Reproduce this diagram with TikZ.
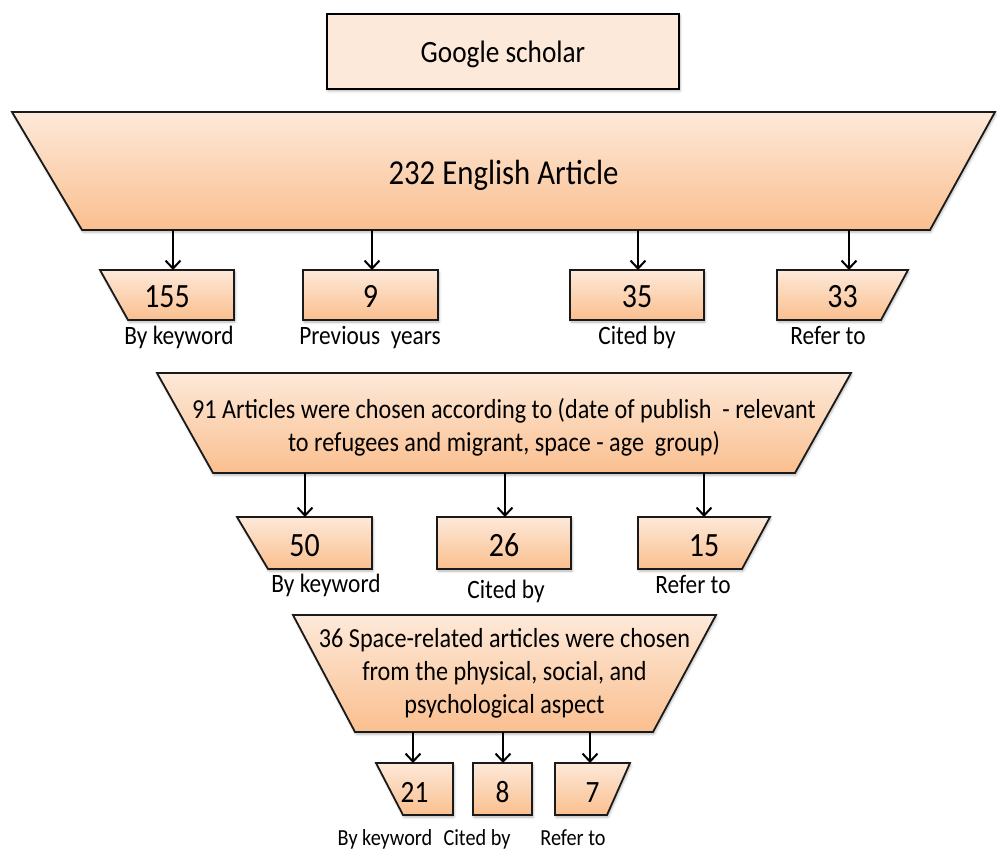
\documentclass[tikz,border=0pt]{standalone}
\usepackage{fontspec}
\setmainfont{Carlito}[FakeStretch=0.88]
\usetikzlibrary{arrows.meta,backgrounds,shadows.blur}

\definecolor{paleorange}{HTML}{FDE9D9}
\definecolor{deeporange}{HTML}{FABF8F}
\definecolor{edge}{HTML}{1A1A1A}

\tikzset{
  frame/.style={rectangle, inner sep=0pt, outer sep=0pt, align=center},
  softshadow/.style={blur shadow={shadow xshift=1pt, shadow yshift=-2pt,
      shadow blur radius=2.5pt, shadow opacity=30}},
  funnelshape/.style={draw=edge, line width=1.8pt, line join=miter,
      top color=paleorange, bottom color=deeporange, softshadow},
  countbox/.style={frame, text height=26pt, text depth=0pt,
      font=\fontsize{34}{36}\selectfont},
  smallcount/.style={countbox, font=\fontsize{31}{33}\selectfont},
  caption/.style={anchor=base, inner sep=0pt, font=\fontsize{26.5}{30}\selectfont},
  smallcaption/.style={caption, font=\fontsize{23}{26}\selectfont},
  flow/.style={draw=black, line width=2pt, -{Straight Barb[length=8pt,width=15pt]}},
}

% outline of a box whose bottom side is pulled in by #2 (left) and #3 (right)
\newcommand\slanted[3]{%
  \path[funnelshape] (#1.north west) -- (#1.north east)
    -- ([xshift=-#3pt]#1.south east) -- ([xshift=#2pt]#1.south west) -- cycle;}

\begin{document}
\begin{tikzpicture}[x=1pt, y=-1pt]
\useasboundingbox (0,0) rectangle (997,850);

% source
\node[frame, draw=black, line width=2.6pt, fill=paleorange, softshadow,
      minimum width=352pt, minimum height=75pt, text height=23pt, text depth=0pt,
      font=\fontsize{31}{33}\selectfont] (GS) at (503,51.5) {Google scholar};

% first stage
\node[frame, minimum width=983pt, minimum height=118pt, text height=28pt, text depth=0pt,
      font=\fontsize{35}{37}\selectfont] (T1) at (503.5,171) {232 English Article};
\node[countbox, minimum width=134pt, minimum height=50pt] (B155) at (167,295) {155};
\node[countbox, minimum width=135pt, minimum height=50pt] (B9)   at (370.5,295) {9};
\node[countbox, minimum width=134pt, minimum height=50pt] (B35)  at (637,295) {35};
\node[countbox, minimum width=131pt, minimum height=50pt] (B33)  at (842.5,295) {33};
\node[caption] (L155) at (179,345) {By keyword};
\node[caption] (L9)   at (370,345) {Previous\ \ years};
\node[caption] (L35)  at (637,345) {Cited by};
\node[caption] (L33)  at (828,345) {Refer to};

% second stage
\node[frame, minimum width=694pt, minimum height=100pt,
      font=\fontsize{27.5}{33}\selectfont] (T2) at (504,423)
  {\rule{0pt}{28pt}91 Articles were chosen according to (date of publish\ \ - relevant\\
   to refugees and migrant, space - age\ \ group)};
\node[countbox, minimum width=135pt, minimum height=52pt] (B50) at (304.5,543) {50};
\node[countbox, minimum width=134pt, minimum height=52pt] (B26) at (504,543) {26};
\node[countbox, minimum width=132pt, minimum height=52pt] (B15) at (704,543) {15};
\node[caption] (L50) at (326,592) {By keyword};
\node[caption] (L26) at (506,598) {Cited by};
\node[caption] (L15) at (693,593) {Refer to};

% third stage
\node[frame, minimum width=423pt, minimum height=117pt,
      font=\fontsize{27.5}{33}\selectfont] (T3) at (504.5,673.5)
  {36 Space-related articles were chosen\\
   from the physical, social, and\\
   psychological aspect};
\node[smallcount, minimum width=77pt, minimum height=52pt] (B21) at (414.5,789) {21};
\node[smallcount, minimum width=59pt, minimum height=52pt] (B8)  at (502.5,789) {8};
\node[smallcount, minimum width=75pt, minimum height=52pt] (B7)  at (592.5,789) {7};
\node[smallcaption] (L21) at (385,845) {By keyword};
\node[smallcaption] (L8)  at (477,845) {Cited by};
\node[smallcaption] (L7)  at (573,845) {Refer to};

% shaded outlines behind the texts
\begin{scope}[on background layer]
  \slanted{T1}{70}{65}
  \slanted{B155}{28}{0}
  \slanted{B9}{0}{0}
  \slanted{B35}{0}{0}
  \slanted{B33}{0}{27}
  \slanted{T2}{56}{56}
  \slanted{B50}{31}{0}
  \slanted{B26}{0}{0}
  \slanted{B15}{0}{28}
  \slanted{T3}{62}{63}
  \slanted{B21}{27}{0}
  \slanted{B8}{0}{0}
  \slanted{B7}{0}{23}
\end{scope}

% drop points of the arrows
\coordinate (d155) at (173,0);
\coordinate (d9)   at (372,0);
\coordinate (d35)  at (638,0);
\coordinate (d33)  at (849,0);
\coordinate (d50)  at (305,0);
\coordinate (d26)  at (505,0);
\coordinate (d15)  at (704,0);
\coordinate (d21)  at (413,0);
\coordinate (d8)   at (503,0);
\coordinate (d7)   at (590,0);

\draw[flow] (T1.south -| d155) -- (B155.north -| d155);
\draw[flow] (T1.south -| d9)   -- (B9.north -| d9);
\draw[flow] (T1.south -| d35)  -- (B35.north -| d35);
\draw[flow] (T1.south -| d33)  -- (B33.north -| d33);
\draw[flow] (T2.south -| d50)  -- (B50.north -| d50);
\draw[flow] (T2.south -| d26)  -- (B26.north -| d26);
\draw[flow] (T2.south -| d15)  -- (B15.north -| d15);
\draw[flow] (T3.south -| d21)  -- (B21.north -| d21);
\draw[flow] (T3.south -| d8)   -- (B8.north -| d8);
\draw[flow] (T3.south -| d7)   -- (B7.north -| d7);
\end{tikzpicture}
\end{document}
